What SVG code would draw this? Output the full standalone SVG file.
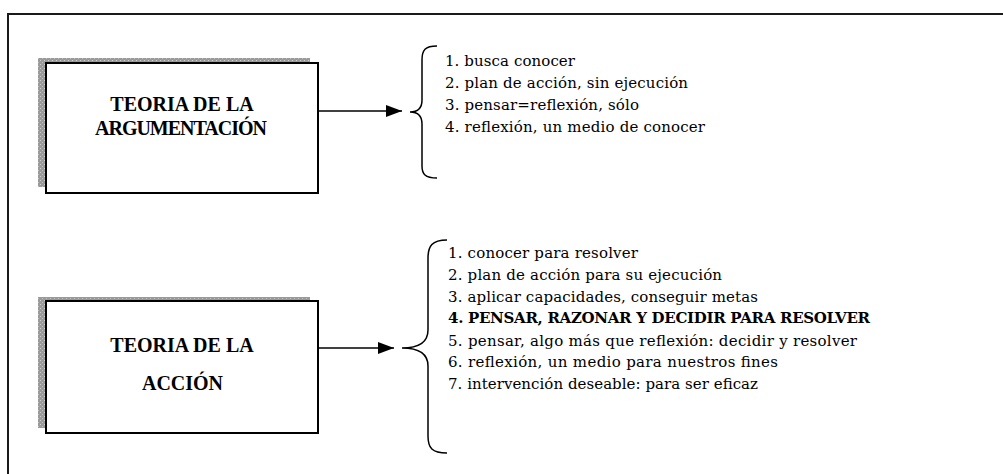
<svg xmlns="http://www.w3.org/2000/svg" width="1003" height="474" viewBox="0 0 1003 474">
<defs>
<pattern id="dots" width="4" height="4" patternUnits="userSpaceOnUse">
<rect width="4" height="4" fill="#9a9a9a"/>
<rect x="0" y="0" width="1" height="1" fill="#d0d0d0"/>
<rect x="2" y="2" width="1" height="1" fill="#c0c0c0"/>
</pattern>
<marker id="arr" markerWidth="16" markerHeight="12" refX="16" refY="6" orient="auto" markerUnits="userSpaceOnUse">
<path d="M0,0 L16,6 L0,12 Z" fill="#000"/>
</marker>
<style>
.frame{fill:none;stroke:#1a1a1a;stroke-width:2}
.shadow{fill:url(#dots)}
.box{fill:#fff;stroke:#000;stroke-width:2}
.title{font-family:"Liberation Serif",serif;font-weight:bold;font-size:20px;fill:#000;text-anchor:middle}
.item{font-family:"DejaVu Serif",serif;font-size:15px;fill:#000}
.b{font-weight:bold}
.conn{fill:none;stroke:#000;stroke-width:1.5}
.brace{fill:none;stroke:#000;stroke-width:1.5}
</style>
</defs>
<rect width="1003" height="474" fill="#fff"/>
<path class="frame" d="M8,474 L8,14 L1003,14"/>

<g id="node-argumentacion">
<rect class="shadow" x="38" y="58" width="272" height="129"/>
<rect class="box" x="46" y="63" width="272" height="130"/>
<text class="title" x="182" y="111">TEORIA DE LA</text>
<text class="title" x="181" y="135" textLength="172" lengthAdjust="spacing">ARGUMENTACIÓN</text>
</g>

<g id="node-accion">
<rect class="shadow" x="38" y="297" width="272" height="131"/>
<rect class="box" x="46" y="301" width="272" height="132"/>
<text class="title" x="182" y="352">TEORIA DE LA</text>
<text class="title" x="182.5" y="390">ACCIÓN</text>
</g>

<g id="list-argumentacion">
<path class="brace" d="M437,46 C425,46 422,50 422,60 L422,100 C422,108 418,112 410,112 C418,112 422,116 422,124 L422,166 C422,174 425,178 437,178"/>
<text class="item" x="445" y="66" textLength="130" lengthAdjust="spacing">1. busca conocer</text>
<text class="item" x="445" y="88" textLength="243" lengthAdjust="spacing">2. plan de acción, sin ejecución</text>
<text class="item" x="445" y="110" textLength="194" lengthAdjust="spacing">3. pensar=reflexión, sólo</text>
<text class="item" x="445" y="132" textLength="260" lengthAdjust="spacing">4. reflexión, un medio de conocer</text>
</g>

<g id="list-accion">
<path class="brace" d="M447,240 C432,240 428,246 428,258 L428,330 C428,342 420,348 402,348 C420,348 428,354 428,366 L428,436 C428,448 432,453 447,453"/>
<text class="item" x="448" y="258" textLength="190" lengthAdjust="spacing">1. conocer para resolver</text>
<text class="item" x="448" y="280" textLength="274" lengthAdjust="spacing">2. plan de acción para su ejecución</text>
<text class="item" x="448" y="302" textLength="310" lengthAdjust="spacing">3. aplicar capacidades, conseguir metas</text>
<text class="item b" x="448" y="323" textLength="422" lengthAdjust="spacing">4. PENSAR, RAZONAR Y DECIDIR PARA RESOLVER</text>
<text class="item" x="448" y="346" textLength="409" lengthAdjust="spacing">5. pensar, algo más que reflexión: decidir y resolver</text>
<text class="item" x="448" y="367" textLength="330" lengthAdjust="spacing">6. reflexión, un medio para nuestros fines</text>
<text class="item" x="448" y="389" textLength="310" lengthAdjust="spacing">7. intervención deseable: para ser eficaz</text>
</g>

<g id="connectors">
<line class="conn" x1="318" y1="111" x2="402" y2="111" marker-end="url(#arr)"/>
<line class="conn" x1="318" y1="348" x2="394" y2="348" marker-end="url(#arr)"/>
</g>
</svg>
